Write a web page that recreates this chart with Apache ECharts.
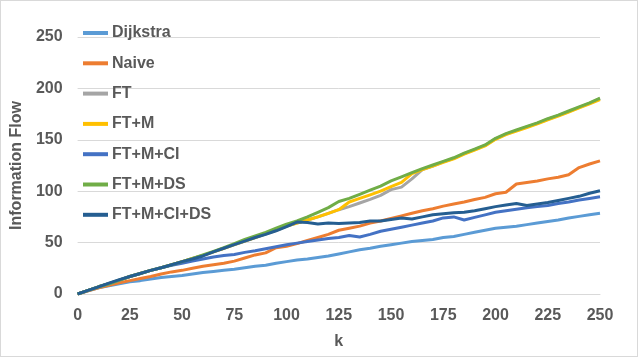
<!DOCTYPE html>
<html>
<head>
<meta charset="utf-8">
<script src="https://cdn.jsdelivr.net/npm/echarts@6/dist/echarts.min.js"></script>
<style>
  html, body { margin: 0; padding: 0; background: #fff; }
  #chart { width: 638px; height: 357px; box-sizing: border-box; border: 1px solid #d9d9d9; }
</style>
</head>
<body>
<div id="chart"></div>
<script>
// k values (x axis), one point every 5
const kValues = [0, 5, 10, 15, 20, 25, 30, 35, 40, 45, 50, 55, 60, 65, 70, 75, 80, 85, 90, 95,
  100, 105, 110, 115, 120, 125, 130, 135, 140, 145, 150, 155, 160, 165, 170, 175, 180, 185, 190, 195,
  200, 205, 210, 215, 220, 225, 230, 235, 240, 245, 250];

const dijkstra = [0, 3, 6, 8, 10, 12, 13, 14.5, 16, 17, 18, 19.5, 21, 22, 23, 24, 25.5, 27, 28, 30,
  31.5, 33, 34, 35.5, 37, 39, 41, 43, 44.5, 46.5, 48, 49.5, 51, 52, 53, 55, 56, 58, 60, 62,
  64, 65, 66, 67.5, 69, 70.5, 72, 74, 75.5, 77, 78.5];

const naive = [0, 3, 6, 8.5, 11, 13, 15, 17, 19.5, 21.5, 23, 25, 27, 28.5, 30, 32, 35, 38, 40, 45,
  46.5, 49, 52, 55, 58, 62, 64, 66, 69, 71, 73.5, 76, 78.5, 81, 83, 85.5, 87.5, 89.5, 92, 94,
  97.5, 99, 107, 108.5, 110, 112, 113.5, 116, 123, 126.5, 129.5];

const ft = [0, 3.5, 7, 10, 13.5, 17, 20, 23, 25.5, 28.5, 31.5, 34.5, 37.5, 41, 44.5, 48, 51.5, 55, 58.5, 62,
  66, 69, 72, 75, 78.5, 82, 85, 88.5, 92, 96, 101.5, 104, 112, 121, 124.5, 128.5, 132, 136.5, 140.5, 144.5,
  151, 155.5, 159, 162.5, 166, 170, 173.5, 177.5, 181.5, 185.5, 190];

const ftM = [0, 3.5, 7, 10, 13.5, 17, 20, 23, 25.5, 28.5, 31.5, 34.5, 37.5, 41, 44.5, 48, 51.5, 55, 58.5, 62,
  66, 69, 72, 75, 78.5, 82, 89.5, 93, 96.5, 100, 104.5, 108.5, 117, 121, 124.5, 128, 131.5, 136, 140, 144,
  150.5, 155, 158.5, 162, 165.5, 169.5, 173, 177, 181, 185, 189];

const ftMCI = [0, 3.5, 7, 10, 13.5, 17, 20, 23, 25.5, 28, 30, 32, 34, 36, 37.5, 38.5, 40.5, 42, 44, 46,
  48, 49.5, 51, 52.5, 54, 55, 57, 55.5, 58, 61, 63, 65, 67, 69, 71, 74, 75, 72, 74.5, 77,
  79.5, 81, 82.5, 84, 85, 86, 88, 89.5, 91.5, 93, 94.5];

const ftMDS = [0, 3.5, 7, 10, 13.5, 17, 20, 23, 25.5, 28.5, 31.5, 34.5, 38, 41.5, 45, 49, 53, 56.5, 60, 64,
  68, 71, 75, 79.5, 84, 90, 93, 97, 101, 105, 110, 114, 118, 122, 125.5, 129, 132.5, 137, 141, 145,
  151.5, 156, 159.5, 163, 166.5, 170.5, 174, 178, 182, 186, 190.5];

const ftMCIDS = [0, 3.5, 7, 10.5, 14, 17, 20, 23, 25.5, 28.5, 31.5, 34, 37, 41, 44.5, 48, 51.5, 55, 58, 61.5,
  65.5, 70, 69.5, 68, 69, 68.5, 69, 69.5, 71, 71, 72.5, 74, 73, 75, 77, 78, 79, 79.5, 81, 83,
  85, 86.5, 88, 86, 87.5, 89, 91, 93, 95, 98, 100.5];

const seriesNames = ["Dijkstra", "Naive", "FT", "FT+M", "FT+M+CI", "FT+M+DS", "FT+M+CI+DS"];
const seriesData = [dijkstra, naive, ft, ftM, ftMCI, ftMDS, ftMCIDS];
const colors = ["#5b9bd5", "#ed7d31", "#a5a5a5", "#ffc000", "#4472c4", "#70ad47", "#255e91"];

const FONT = "Liberation Sans";
const TEXT = "#595959";

const chart = echarts.init(document.getElementById("chart"));

chart.setOption({
  animation: false,
  color: colors,
  backgroundColor: "#fff",
  textStyle: { fontFamily: FONT },
  grid: {
    left: 76,
    right: 37,
    top: 36,
    bottom: 62
  },
  legend: {
    orient: "vertical",
    left: 77,
    top: 18,
    icon: "rect",
    itemWidth: 25,
    itemHeight: 4,
    itemGap: 12.3,
    textStyle: {
      color: TEXT,
      fontSize: 16,
      fontWeight: "bold",
      lineHeight: 18,
      padding: [0, 0, 0, -1]
    },
    data: seriesNames
  },
  xAxis: {
    type: "value",
    min: 0,
    max: 250,
    interval: 25,
    name: "k",
    nameLocation: "middle",
    nameGap: 40,
    nameTextStyle: { color: TEXT, fontSize: 16, fontWeight: "bold" },
    axisLine: { show: true, lineStyle: { color: "#d9d9d9", width: 1 } },
    axisTick: { show: false },
    axisLabel: { color: TEXT, fontSize: 16, fontWeight: "bold", margin: 14 },
    splitLine: { show: false }
  },
  yAxis: {
    type: "value",
    min: 0,
    max: 250,
    interval: 50,
    name: "Information Flow",
    nameLocation: "middle",
    nameGap: 49,
    nameTextStyle: { color: TEXT, fontSize: 16, fontWeight: "bold" },
    axisLine: { show: false },
    axisTick: { show: false },
    axisLabel: { color: TEXT, fontSize: 16, fontWeight: "bold", margin: 15 },
    splitLine: { lineStyle: { color: "#d9d9d9", width: 1 } }
  },
  series: seriesNames.map((name, i) => ({
    name: name,
    type: "line",
    showSymbol: false,
    symbol: "none",
    lineStyle: { width: 3 },
    data: kValues.map((k, j) => [k, seriesData[i][j]])
  }))
});
</script>
</body>
</html>
